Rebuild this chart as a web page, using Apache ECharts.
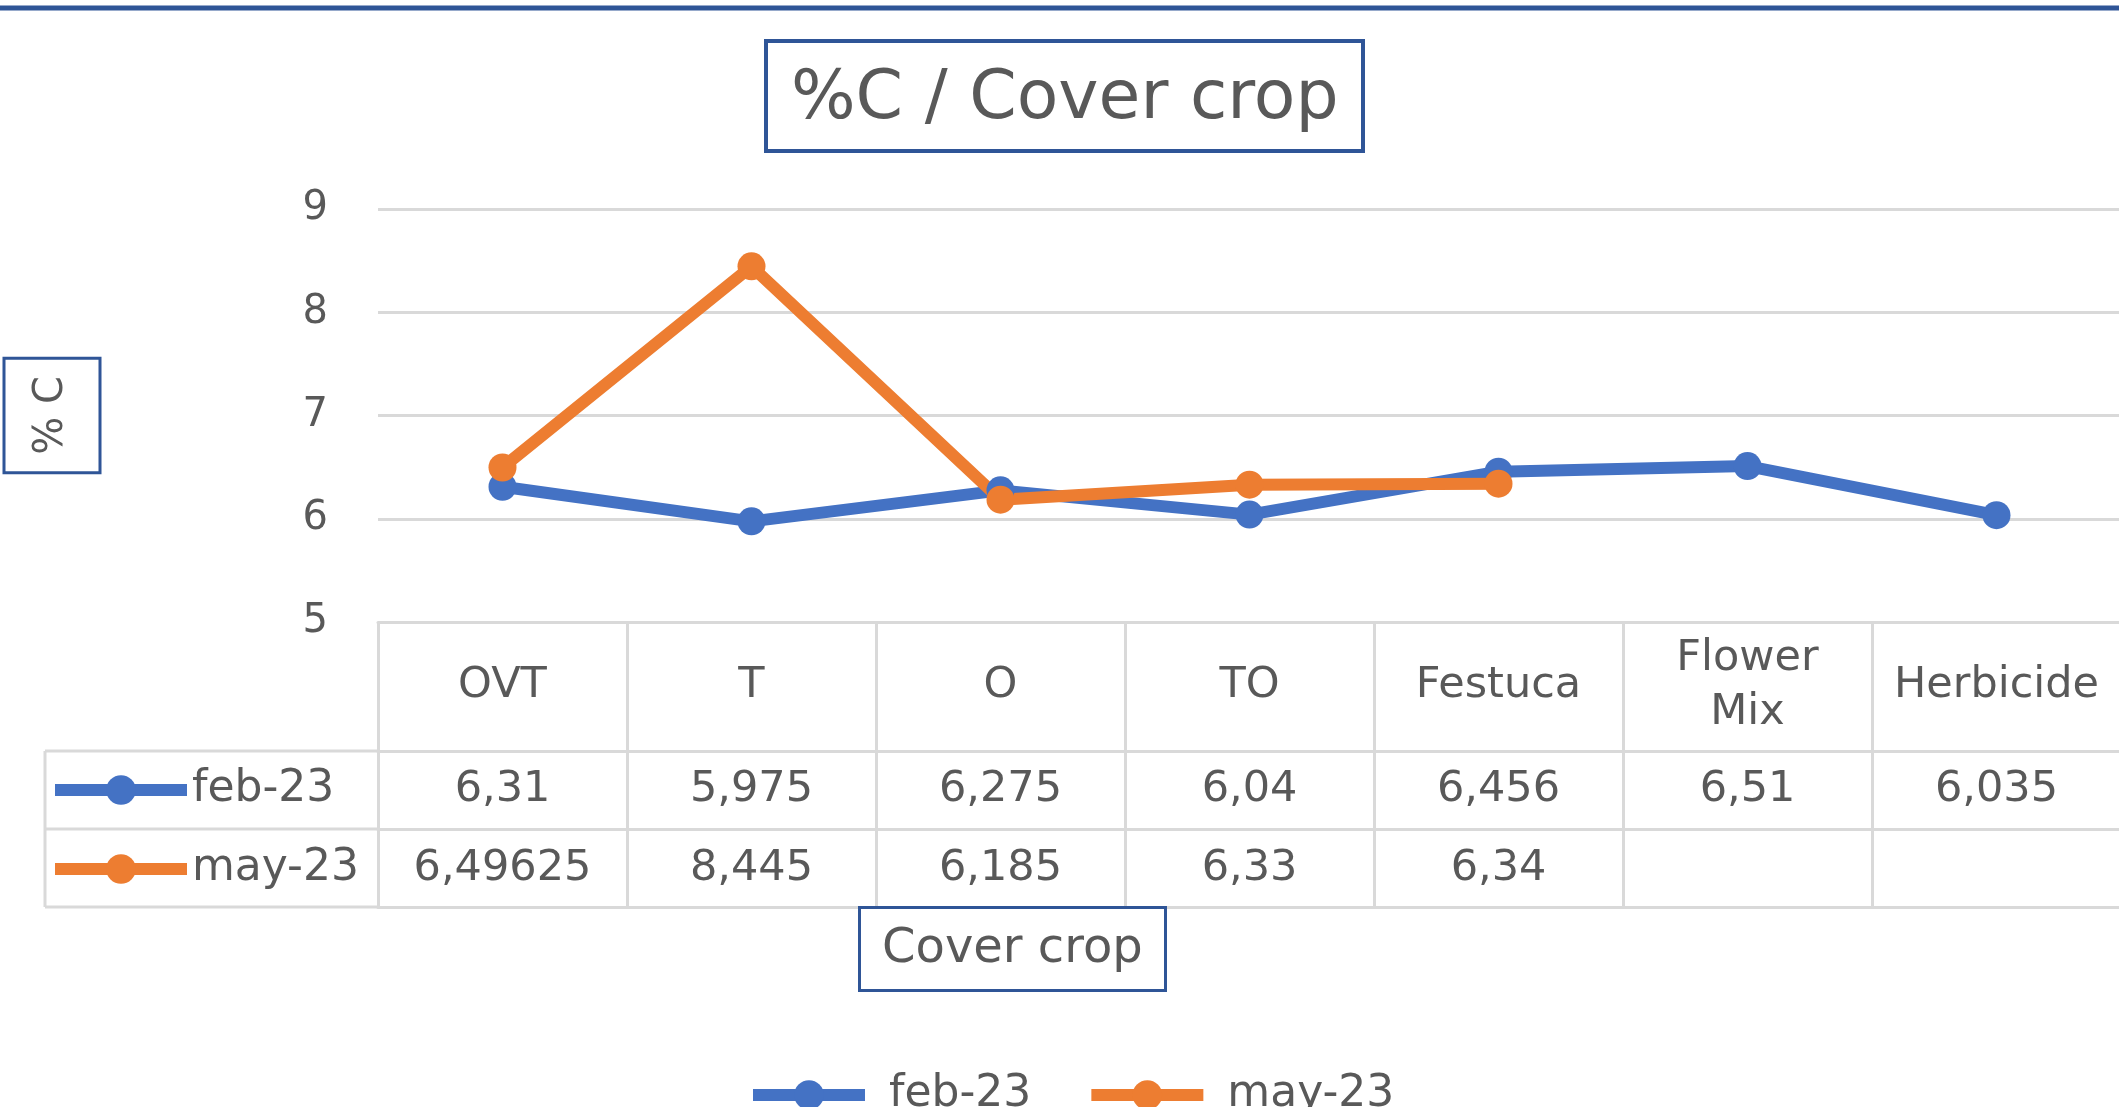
<!DOCTYPE html>
<html>
<head>
<meta charset="utf-8">
<script src="https://cdn.jsdelivr.net/npm/echarts@6/dist/echarts.min.js"></script>
<style>
  html, body { margin: 0; padding: 0; background: #fff; }
  #main { width: 2119px; height: 1107px; }
</style>
</head>
<body>
<div id="main"></div>
<script>
// data
const categories = ['OVT', 'T', 'O', 'TO', 'Festuca', 'Flower Mix', 'Herbicide'];
const feb23 = [6.31, 5.975, 6.275, 6.04, 6.456, 6.51, 6.035];
const may23 = [6.49625, 8.445, 6.185, 6.33, 6.34, null, null];
const yTicks = { min: 5, max: 9, interval: 1 };

const FONT = 'DejaVu Sans';
const TEXT = '#595959';
const GRID = '#d9d9d9';
const FRAME = '#2F5597';
const BLUE = '#4472C4';
const ORANGE = '#ED7D31';

// number shown with a decimal comma like in the table
const fmt = v => (v == null ? '' : String(v).replace('.', ','));

const chart = echarts.init(document.getElementById('main'));

// table row layout (px below the plot bottom)
const headH = 129, rowH = 78;

const rowAxis = (offset, margin, values, showLabel) => ({
  type: 'category',
  data: categories,
  position: 'bottom',
  offset: offset,
  axisLine: { show: true, lineStyle: { color: GRID, width: 3 } },
  axisTick: { show: false },
  axisLabel: {
    show: showLabel,
    interval: 0,
    margin: margin,
    verticalAlign: 'middle',
    color: TEXT,
    fontFamily: FONT,
    fontSize: 43,
    formatter: (v, i) => fmt(values ? values[i] : null)
  }
});

const legendText = { color: TEXT, fontFamily: FONT, fontSize: 44 };

const option = {
  animation: false,
  backgroundColor: '#fff',
  title: [
    {
      text: '%C / Cover crop',
      left: 766,
      top: 41,
      padding: [22, 25, 14, 25],
      borderColor: FRAME,
      borderWidth: 4,
      textStyle: { color: TEXT, fontFamily: FONT, fontSize: 68, fontWeight: 'normal', lineHeight: 74 }
    },
    {
      text: 'Cover crop',
      left: 859,
      top: 907,
      padding: [17, 23, 15, 23],
      borderColor: FRAME,
      borderWidth: 3,
      textStyle: { color: TEXT, fontFamily: FONT, fontSize: 48, fontWeight: 'normal', lineHeight: 52 }
    }
  ],
  legend: [
    {
      data: ['feb-23'],
      left: 49, top: 768, padding: 0,
      itemWidth: 132, itemHeight: 37,
      lineStyle: { width: 12 },
      textStyle: legendText
    },
    {
      data: ['may-23'],
      left: 49, top: 847, padding: 0,
      itemWidth: 132, itemHeight: 37,
      lineStyle: { width: 12 },
      textStyle: legendText
    },
    {
      data: ['feb-23', 'may-23'],
      left: 747, top: 1073, padding: 0,
      itemWidth: 112, itemHeight: 37, itemGap: 54,
      lineStyle: { width: 12 },
      textStyle: Object.assign({ padding: [0, 0, 0, 19] }, legendText)
    }
  ],
  grid: { left: 378, top: 209, width: 1743, height: 413, outerBoundsMode: 'none', containLabel: false },
  xAxis: [
    {
      type: 'category',
      data: categories,
      position: 'bottom',
      boundaryGap: true,
      axisLine: { show: true, lineStyle: { color: GRID, width: 3 } },
      axisTick: { show: true, interval: 0, length: headH + 2 * rowH, lineStyle: { color: GRID, width: 3 } },
      axisLabel: {
        interval: 0,
        margin: 64,
        verticalAlign: 'middle',
        color: TEXT,
        fontFamily: FONT,
        fontSize: 43,
        lineHeight: 54,
        formatter: v => v.replace(' ', '\n')
      }
    },
    rowAxis(headH, 39, feb23, true),
    rowAxis(headH + rowH, 40, may23, true),
    rowAxis(headH + 2 * rowH, 0, null, false)
  ],
  yAxis: {
    type: 'value',
    min: yTicks.min,
    max: yTicks.max,
    interval: yTicks.interval,
    axisLine: { show: false },
    axisTick: { show: false },
    splitLine: { show: true, lineStyle: { color: GRID, width: 3 } },
    axisLabel: { margin: 50, color: TEXT, fontFamily: FONT, fontSize: 40 },
    name: '% C',
    nameLocation: 'middle',
    nameRotate: 90,
    nameGap: 278,
    nameTextStyle: {
      color: TEXT, fontFamily: FONT, fontSize: 40,
      borderColor: FRAME, borderWidth: 3,
      padding: [28, 18, 28, 18]
    }
  },
  series: [
    {
      name: 'feb-23',
      type: 'line',
      data: feb23,
      symbol: 'circle',
      symbolSize: 28,
      color: BLUE,
      lineStyle: { color: BLUE, width: 12 },
      itemStyle: { color: BLUE },
      emphasis: { disabled: true }
    },
    {
      name: 'may-23',
      type: 'line',
      data: may23,
      symbol: 'circle',
      symbolSize: 28,
      color: ORANGE,
      lineStyle: { color: ORANGE, width: 12 },
      itemStyle: { color: ORANGE },
      emphasis: { disabled: true }
    }
  ],
  graphic: [
    // outer frame line on top
    { type: 'line', shape: { x1: 0, y1: 8, x2: 2119, y2: 8 }, style: { stroke: FRAME, lineWidth: 5 } },
    // left part of the data table (series names column)
    { type: 'line', shape: { x1: 45, y1: 751, x2: 378, y2: 751 }, style: { stroke: GRID, lineWidth: 3 } },
    { type: 'line', shape: { x1: 45, y1: 829, x2: 378, y2: 829 }, style: { stroke: GRID, lineWidth: 3 } },
    { type: 'line', shape: { x1: 45, y1: 907, x2: 378, y2: 907 }, style: { stroke: GRID, lineWidth: 3 } },
    { type: 'line', shape: { x1: 45, y1: 751, x2: 45, y2: 907 }, style: { stroke: GRID, lineWidth: 3 } }
  ]
};

chart.setOption(option);
</script>
</body>
</html>
